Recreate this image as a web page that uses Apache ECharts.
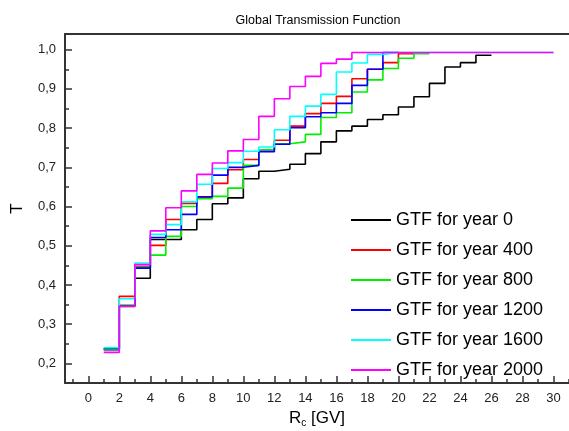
<!DOCTYPE html>
<html><head><meta charset="utf-8">
<script src="https://cdn.jsdelivr.net/npm/echarts@6/dist/echarts.min.js"></script>
<style>html,body{margin:0;padding:0;background:#fff}#c{width:569px;height:431px}</style>
</head><body><div id="c"></div>
<script>
// ---- data ----
const seriesNames = ['GTF for year 0','GTF for year 400','GTF for year 800','GTF for year 1200','GTF for year 1600','GTF for year 2000'];
const startX = 1; // first step begins at Rc = 1 GV, one value per 1 GV bin
const year0    = [0.235,0.345,0.417,0.516,0.516,0.541,0.567,0.607,0.622,0.671,0.690,0.695,0.708,0.735,0.765,0.793,0.805,0.822,0.834,0.854,0.880,0.914,0.956,0.967,0.986];
const year400  = [0.237,0.371,0.447,0.501,0.567,0.608,0.622,0.659,0.694,0.720,0.745,0.769,0.805,0.837,0.863,0.881,0.926,0.950,0.967,0.990];
const year800  = [0.236,0.349,0.445,0.476,0.524,0.600,0.620,0.626,0.647,0.705,0.745,0.760,0.765,0.784,0.827,0.839,0.892,0.923,0.952,0.978,0.990];
const year1200 = [0.238,0.347,0.443,0.521,0.541,0.580,0.625,0.680,0.700,0.705,0.740,0.759,0.801,0.829,0.839,0.863,0.909,0.950,0.993];
const year1600 = [0.240,0.365,0.456,0.529,0.554,0.612,0.657,0.697,0.712,0.741,0.752,0.796,0.830,0.856,0.886,0.943,0.966,0.988,0.993,0.993,0.993,0.993,0.993,0.993,0.993,0.993,0.993,0.993,0.993];
const year2000 = [0.228,0.346,0.452,0.538,0.597,0.640,0.682,0.711,0.742,0.771,0.830,0.875,0.906,0.932,0.965,0.976,0.993,0.993,0.993,0.993,0.993,0.993,0.993,0.993,0.993,0.993,0.993,0.993,0.993];
const allValues = [year0, year400, year800, year1200, year1600, year2000];
const xMajorTicks = [0,2,4,6,8,10,12,14,16,18,20,22,24,26,28,30];
const xMinorTicks = [-1,1,3,5,7,9,11,13,15,17,19,21,23,25,27,29,31];
const yMajorTicks = [0.2,0.3,0.4,0.5,0.6,0.7,0.8,0.9,1.0];
const yMinorTicks = [0.25,0.35,0.45,0.55,0.65,0.75,0.85,0.95];

// ---- styles ----
const colors = ['#000000','#ff0000','#00ee00','#0000ff','#00ffff','#ff00ff'];
const FONT = '"Liberation Sans", Arial, sans-serif';
const axisColor = '#333';

const X_MIN = -1.5, X_MAX = 31, Y_MIN = 0.15, Y_MAX = 1.04;

function stepData(vals){
  const d = vals.map((v,i)=>[startX+i, v]);
  d.push([startX+vals.length, vals[vals.length-1]]);
  return d;
}

const chart = echarts.init(document.getElementById('c'), null, {renderer:'canvas'});
chart.setOption({
  animation:false,
  backgroundColor:'#fff',
  textStyle:{fontFamily:FONT},
  title:{text:'Global Transmission Function', left:313, top:9, textAlign:'center',
    textStyle:{fontFamily:FONT, fontSize:12.5, fontWeight:'normal', color:'#000'}},
  grid:{left:65, top:34, right:0, bottom:48, containLabel:false, outerBoundsMode:'none'},
  legend:{orient:'vertical', left:346, top:206, itemWidth:40, itemHeight:2, itemGap:12,
    icon:'rect', data:seriesNames,
    textStyle:{fontFamily:FONT, fontSize:18, lineHeight:18, color:'#000'}},
  xAxis:[
    {type:'value', min:X_MIN, max:X_MAX, position:'bottom',
     axisLine:{show:true, onZero:false, lineStyle:{color:axisColor, width:2}},
     axisTick:{show:true, inside:true, length:7, customValues:xMajorTicks, lineStyle:{color:axisColor, width:1.5}},
     axisLabel:{show:true, customValues:xMajorTicks, fontFamily:FONT, fontSize:13, color:'#222', margin:9},
     splitLine:{show:false},
     name:'{a|R}{b|c}{a| [GV]}', nameLocation:'middle', nameGap:23,
     nameTextStyle:{rich:{a:{fontFamily:FONT, fontSize:17, color:'#000'}, b:{fontFamily:FONT, fontSize:10, color:'#000', padding:[10,0,0,0]}}}},
    {type:'value', min:X_MIN, max:X_MAX, position:'bottom',
     axisLine:{show:false, onZero:false},
     axisTick:{show:true, inside:true, length:4, customValues:xMinorTicks, lineStyle:{color:axisColor, width:1.5}},
     axisLabel:{show:false}, splitLine:{show:false}},
    {type:'value', min:X_MIN, max:X_MAX, position:'top',
     axisLine:{show:true, onZero:false, lineStyle:{color:axisColor, width:2}},
     axisTick:{show:false}, axisLabel:{show:false}, splitLine:{show:false}}
  ],
  yAxis:[
    {type:'value', min:Y_MIN, max:Y_MAX, position:'left',
     axisLine:{show:true, onZero:false, lineStyle:{color:axisColor, width:2}},
     axisTick:{show:true, inside:true, length:7, customValues:yMajorTicks, lineStyle:{color:axisColor, width:1.5}},
     axisLabel:{show:true, customValues:yMajorTicks, fontFamily:FONT, fontSize:13, color:'#222', margin:9,
       formatter:v=>v.toFixed(1).replace('.',',')},
     splitLine:{show:false},
     name:'T', nameLocation:'middle', nameGap:39, nameRotate:90,
     nameTextStyle:{fontFamily:FONT, fontSize:17, color:'#000'}},
    {type:'value', min:Y_MIN, max:Y_MAX, position:'left',
     axisLine:{show:false, onZero:false},
     axisTick:{show:true, inside:true, length:4, customValues:yMinorTicks, lineStyle:{color:axisColor, width:1.5}},
     axisLabel:{show:false}, splitLine:{show:false}}
  ],
  series: allValues.map((vals,i)=>({
    name:seriesNames[i], type:'line', step:'end', xAxisIndex:0, yAxisIndex:0,
    data:stepData(vals), symbol:'none', showSymbol:false,
    lineStyle:{color:colors[i], width:1.6}, itemStyle:{color:colors[i]},
    z:2+i
  }))
});
</script>
</body></html>
